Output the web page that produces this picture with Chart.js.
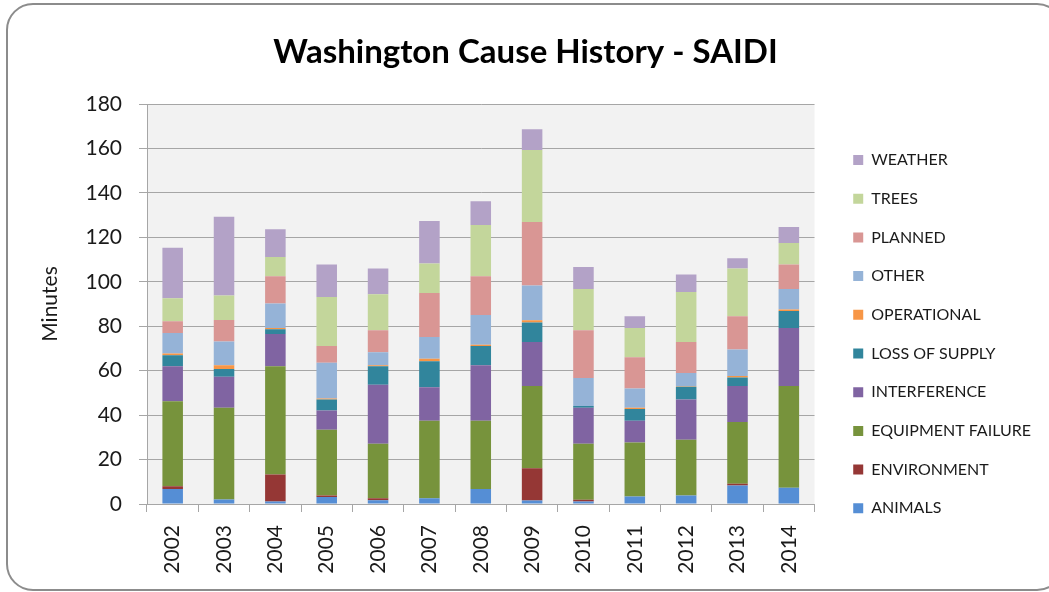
<!DOCTYPE html>
<html>
<head>
<meta charset="utf-8">
<script src="https://cdn.jsdelivr.net/npm/chart.js@4/dist/chart.umd.min.js"></script>
<style>
html,body{margin:0;padding:0;background:#fff;}
#wrap{width:1049px;height:592px;position:relative;}
</style>
</head>
<body>
<div id="wrap"><canvas id="c" width="1049" height="592"></canvas></div>
<script>
const years = ['2002','2003','2004','2005','2006','2007','2008','2009','2010','2011','2012','2013','2014'];
const yTicks = [0,20,40,60,80,100,120,140,160,180];

const animals      = [6.8, 2.0, 1.1, 3.2, 1.7, 2.6, 6.7, 1.6, 1.1, 3.4, 3.8, 8.3, 7.3];
const environment  = [1.2, 0.0, 12.2, 0.6, 0.9, 0.0, 0.0, 14.5, 0.8, 0.0, 0.0, 0.8, 0.0];
const equipment    = [38.2, 41.3, 48.7, 29.6, 24.5, 34.9, 30.8, 37.0, 25.2, 24.3, 25.1, 27.8, 45.8];
const interference = [15.8, 14.0, 14.5, 8.7, 26.6, 15.0, 24.9, 19.8, 16.2, 9.8, 18.1, 16.2, 26.1];
const lossSupply   = [4.9, 3.5, 2.1, 4.9, 8.3, 11.7, 8.7, 8.8, 0.8, 5.2, 5.8, 3.8, 7.7];
const operational  = [0.8, 1.6, 0.6, 0.5, 0.4, 1.2, 0.6, 1.0, 0.0, 0.6, 0.2, 0.7, 0.6];
const other        = [9.3, 10.7, 11.0, 16.1, 5.9, 9.8, 13.4, 15.6, 12.6, 8.7, 5.9, 11.9, 9.2];
const planned      = [5.2, 9.7, 12.3, 7.5, 9.9, 19.8, 17.4, 28.6, 21.5, 14.0, 14.0, 15.0, 11.1];
const trees        = [10.4, 11.0, 8.7, 22.1, 16.2, 13.2, 23.1, 32.4, 18.5, 13.2, 22.5, 21.5, 9.7];
const weather      = [22.7, 35.5, 12.4, 14.6, 11.6, 19.2, 10.6, 9.3, 10.0, 5.3, 7.9, 4.6, 7.1];

const seriesNames  = ['ANIMALS','ENVIRONMENT','EQUIPMENT FAILURE','INTERFERENCE','LOSS OF SUPPLY','OPERATIONAL','OTHER','PLANNED','TREES','WEATHER'];
const seriesData   = [animals, environment, equipment, interference, lossSupply, operational, other, planned, trees, weather];
const seriesColors = ['#558ED5','#953735','#77933C','#8064A2','#31859C','#F79646','#95B3D7','#D99694','#C3D69B','#B3A2C7'];

const FONT = 'Lato, "Open Sans", sans-serif';
const TEXT = '#1a1a1a';
const GRID = '#a6a6a6';

const bgPlugin = {
  id: 'bg',
  beforeDraw(chart) {
    const {ctx, chartArea: a} = chart;
    ctx.save();
    ctx.fillStyle = '#ffffff';
    ctx.fillRect(0, 0, chart.width, chart.height);
    ctx.fillStyle = '#f2f2f2';
    ctx.fillRect(a.left, a.top, a.right - a.left, a.bottom - a.top);
    ctx.strokeStyle = '#8c8c8c';
    ctx.lineWidth = 2;
    ctx.beginPath();
    ctx.roundRect(7, 4, 1056, 586, 26);
    ctx.stroke();
    ctx.restore();
  }
};

new Chart(document.getElementById('c'), {
  type: 'bar',
  data: {
    labels: years,
    datasets: seriesNames.map((n, i) => ({
      label: n,
      data: seriesData[i],
      backgroundColor: seriesColors[i],
      borderWidth: 0,
      categoryPercentage: 1.0,
      barPercentage: 0.4
    }))
  },
  plugins: [bgPlugin],
  options: {
    responsive: false,
    animation: false,
    layout: { padding: { left: 10, right: 8, top: 0, bottom: 8 } },
    plugins: {
      title: {
        display: true,
        text: 'Washington Cause History - SAIDI',
        color: '#000',
        font: { family: FONT, size: 33, weight: 'bold' },
        padding: { top: 32.5, bottom: 31.9 }
      },
      legend: {
        position: 'right',
        reverse: true,
        maxWidth: 260,
        title: { display: true, text: ' ', font: { family: FONT, size: 12 }, padding: { top: 0, bottom: 69.9 } },
        labels: {
          color: TEXT,
          font: { family: FONT, size: 16 },
          boxWidth: 10,
          boxHeight: 10,
          padding: 22.7
        }
      },
      tooltip: { enabled: false }
    },
    scales: {
      x: {
        stacked: true,
        grid: { display: true, offset: true, drawOnChartArea: false, drawTicks: true, tickLength: 8, color: GRID, lineWidth: 1 },
        border: { display: true, color: GRID, width: 1 },
        ticks: { color: TEXT, font: { family: FONT, size: 21 }, minRotation: 90, maxRotation: 90, padding: 13 },
        afterFit(s) { s.height = 592 - 8 - 504; }
      },
      y: {
        stacked: true,
        min: 0, max: 180,
        afterBuildTicks(s) { s.ticks = yTicks.map(v => ({ value: v })); },
        grid: { color: GRID, lineWidth: 1, tickLength: 8 },
        border: { display: true, color: GRID, width: 1 },
        ticks: { color: TEXT, font: { family: FONT, size: 21 }, padding: 17 },
        title: { display: true, text: 'Minutes', color: TEXT, font: { family: FONT, size: 21 }, padding: { top: 28, bottom: 0 } },
        afterFit(s) { s.width = 147 - 10; }
      },
      gap: {
        position: 'right',
        display: true,
        grid: { display: false, drawOnChartArea: false },
        border: { display: false },
        ticks: { display: false },
        afterFit(s) { s.width = 16; }
      }
    }
  }
});
</script>
</body>
</html>
